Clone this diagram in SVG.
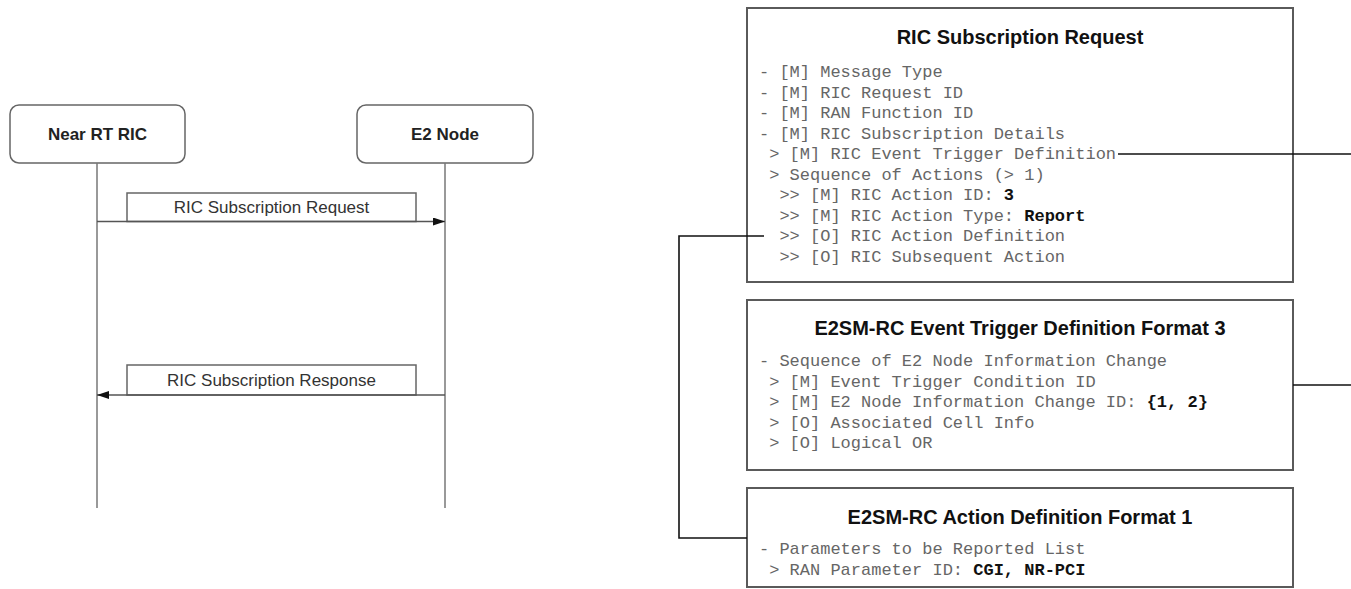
<svg xmlns="http://www.w3.org/2000/svg" width="1351" height="589" viewBox="0 0 1351 589">
  <defs>
    <style>
      .actor { fill: #ffffff; stroke: #666666; stroke-width: 1.5; }
      .actor-label { font-family: "Liberation Sans", Arial, sans-serif; font-size: 17px; font-weight: bold; fill: #222222; text-anchor: middle; }
      .lifeline { stroke: #777777; stroke-width: 1.5; fill: none; }
      .msg-box { fill: #ffffff; stroke: #666666; stroke-width: 1.5; }
      .msg-label { font-family: "Liberation Sans", Arial, sans-serif; font-size: 17px; fill: #333333; text-anchor: middle; }
      .msg-line { stroke: #555555; stroke-width: 1.5; fill: none; }
      .ie-box { fill: #ffffff; stroke: #5a5a5a; stroke-width: 2; }
      .ie-title { font-family: "Liberation Sans", Arial, sans-serif; font-size: 20px; font-weight: bold; fill: #111111; text-anchor: middle; }
      .ie { font-family: "Liberation Mono", "Courier New", monospace; font-size: 17px; fill: #666666; white-space: pre; }
      .ie .v { font-weight: bold; fill: #111111; }
      .link { stroke: #111111; stroke-width: 1.6; fill: none; }
    </style>
    <marker id="arrow" viewBox="0 0 12 8" refX="12" refY="4" markerWidth="12" markerHeight="8" markerUnits="userSpaceOnUse" orient="auto">
      <path d="M0,0 L12,4 L0,8 Z" fill="#111111"/>
    </marker>
  </defs>

  <!-- Sequence participants -->
  <g id="near-rt-ric">
    <rect class="actor" x="10" y="105" width="175" height="58" rx="9" ry="9"/>
    <text class="actor-label" x="97.5" y="140">Near RT RIC</text>
    <line class="lifeline" x1="97" y1="163" x2="97" y2="508"/>
  </g>
  <g id="e2-node">
    <rect class="actor" x="357" y="105" width="176" height="58" rx="9" ry="9"/>
    <text class="actor-label" x="445" y="140">E2 Node</text>
    <line class="lifeline" x1="445" y1="163" x2="445" y2="508"/>
  </g>

  <!-- Messages exchanged between the participants -->
  <g id="messages">
    <g id="msg-request">
      <rect class="msg-box" x="127" y="193" width="289" height="28.5"/>
      <text class="msg-label" x="271.5" y="213">RIC Subscription Request</text>
      <line class="msg-line" x1="97" y1="221.5" x2="445" y2="221.5" marker-end="url(#arrow)"/>
    </g>
    <g id="msg-response">
      <rect class="msg-box" x="127" y="365" width="289" height="30"/>
      <text class="msg-label" x="271.5" y="386">RIC Subscription Response</text>
      <line class="msg-line" x1="445" y1="395" x2="97" y2="395" marker-end="url(#arrow)"/>
    </g>
  </g>

  <!-- Message contents -->
  <g id="ric-subscription-request">
    <rect class="ie-box" x="747" y="8" width="546" height="274"/>
    <text class="ie-title" x="1020" y="44">RIC Subscription Request</text>
    <text class="ie" x="759">
      <tspan x="759" y="77">- [M] Message Type</tspan>
      <tspan x="759" y="97.5">- [M] RIC Request ID</tspan>
      <tspan x="759" y="118">- [M] RAN Function ID</tspan>
      <tspan x="759" y="138.5">- [M] RIC Subscription Details</tspan>
      <tspan x="759" y="159"> &gt; [M] RIC Event Trigger Definition</tspan>
      <tspan x="759" y="179.5"> &gt; Sequence of Actions (&gt; 1)</tspan>
      <tspan x="759" y="200">  &gt;&gt; [M] RIC Action ID: <tspan class="v">3</tspan></tspan>
      <tspan x="759" y="220.5">  &gt;&gt; [M] RIC Action Type: <tspan class="v">Report</tspan></tspan>
      <tspan x="759" y="241">  &gt;&gt; [O] RIC Action Definition</tspan>
      <tspan x="759" y="261.5">  &gt;&gt; [O] RIC Subsequent Action</tspan>
    </text>
  </g>

  <g id="event-trigger-format-3">
    <rect class="ie-box" x="747" y="300" width="546" height="170"/>
    <text class="ie-title" x="1020" y="335">E2SM-RC Event Trigger Definition Format 3</text>
    <text class="ie" x="759">
      <tspan x="759" y="366">- Sequence of E2 Node Information Change</tspan>
      <tspan x="759" y="386.5"> &gt; [M] Event Trigger Condition ID</tspan>
      <tspan x="759" y="407"> &gt; [M] E2 Node Information Change ID: <tspan class="v">{1, 2}</tspan></tspan>
      <tspan x="759" y="427.5"> &gt; [O] Associated Cell Info</tspan>
      <tspan x="759" y="448"> &gt; [O] Logical OR</tspan>
    </text>
  </g>

  <g id="action-definition-format-1">
    <rect class="ie-box" x="747" y="488" width="546" height="99"/>
    <text class="ie-title" x="1020" y="524">E2SM-RC Action Definition Format 1</text>
    <text class="ie" x="759">
      <tspan x="759" y="554">- Parameters to be Reported List</tspan>
      <tspan x="759" y="574.5"> &gt; RAN Parameter ID: <tspan class="v">CGI, NR-PCI</tspan></tspan>
    </text>
  </g>

  <!-- Links between the fields and their definitions -->
  <g id="connectors">
    <line class="link" x1="1118" y1="154" x2="1351" y2="154"/>
    <line class="link" x1="1293" y1="385" x2="1351" y2="385"/>
    <polyline class="link" points="764,236 679,236 679,538 747,538"/>
  </g>
</svg>
